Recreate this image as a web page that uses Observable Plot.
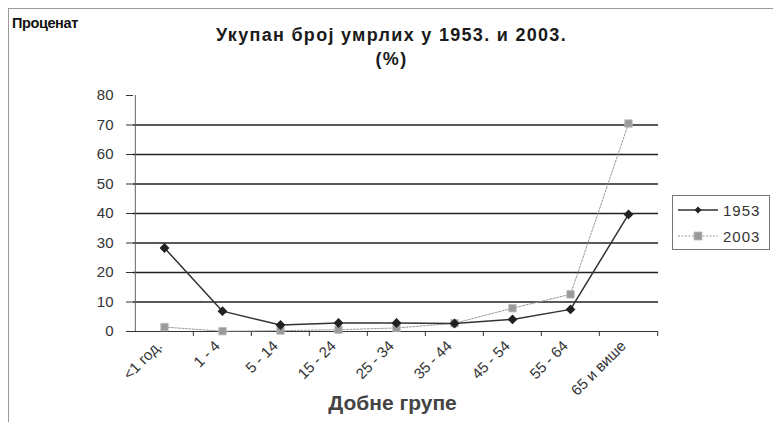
<!DOCTYPE html>
<html><head><meta charset="utf-8">
<script src="https://cdn.jsdelivr.net/npm/d3@7"></script>
<script src="https://cdn.jsdelivr.net/npm/@observablehq/plot@0.6"></script>
<style>
body{margin:0;background:#fff}
#wrap{position:relative;width:773px;height:422px;font-family:"Liberation Sans",Arial,sans-serif;overflow:hidden}
#border{position:absolute;left:8px;top:8px;width:800px;height:430px;border:1px solid #999;box-sizing:border-box}
.t{position:absolute;white-space:nowrap;color:#111}
#ylab{left:12px;top:15px;font-weight:bold;font-size:14.5px;letter-spacing:-0.4px}
#title{left:0;width:783px;text-align:center;top:23px;font-weight:bold;font-size:18px;line-height:24px;letter-spacing:1.3px;color:#1a1a1a}
#xlab{left:0;width:785px;text-align:center;top:391px;font-weight:bold;font-size:21px;color:#444}
#legend{position:absolute;left:672px;top:195px;width:98px;height:55px;border:1px solid #777;box-sizing:border-box;background:#fff;font-size:15px;color:#333}
.li{position:absolute;left:5px;height:18px;display:flex;align-items:center}
.li span{margin-left:5px;letter-spacing:1px}
svg.plot{position:absolute;left:0;top:0}
</style></head><body>
<div id="wrap">
<div id="border"></div>
<div class="t" id="ylab">Проценат</div>
<div class="t" id="title">Укупан број умрлих у 1953. и 2003.<br>(%)</div>
<div class="t" id="xlab">Добне групе</div>
</div>
<script>
const categories = ["<1 год.", "1 - 4", "5 - 14", "15 - 24", "25 - 34", "35 - 44", "45 - 54", "55 - 64", "65 и више"];
const series = ["1953", "2003"];
const values1953 = [28.3, 6.9, 2.2, 2.9, 2.9, 2.7, 4.1, 7.5, 39.7];
const values2003 = [1.5, 0.1, 0.3, 0.6, 1.2, 2.8, 7.9, 12.6, 70.5];
const yTicks = [0, 10, 20, 30, 40, 50, 60, 70, 80];
const gridTicks = [10, 20, 30, 40, 50, 60, 70];

const data = [
  ...categories.map((c, i) => ({cat: c, series: "1953", value: values1953[i]})),
  ...categories.map((c, i) => ({cat: c, series: "2003", value: values2003[i]}))
];
const d1953 = data.filter(d => d.series === "1953");
const d2003 = data.filter(d => d.series === "2003");

const W = 773, H = 422, mL = 133, mR = 115, mT = 95, mB = 91;
const step = (W - mL - mR) / categories.length;

const chart = Plot.plot({
  width: W, height: H,
  marginLeft: mL, marginRight: mR, marginTop: mT, marginBottom: mB,
  style: {background: "transparent", fontFamily: "Liberation Sans, Arial, sans-serif", fontSize: "15px", color: "#333"},
  x: {type: "point", domain: categories, padding: 0.5},
  y: {domain: [0, 80]},
  marks: [
    Plot.ruleY(gridTicks, {stroke: "#222", strokeWidth: 1.3}),
    Plot.ruleY([0], {stroke: "#333", strokeWidth: 1.2}),
    Plot.ruleX([categories[0]], {dx: -step / 2, stroke: "#666", strokeWidth: 1}),
    Plot.axisY({ticks: yTicks, tickSize: 7, tickPadding: 13, label: null, stroke: "#333", fill: "#333", fontSize: 15}),
    Plot.ruleX(categories.slice(1), {x: d => d, dx: -step / 2, insetTop: H - mT - mB, insetBottom: -5, stroke: "#333"}),
    Plot.ruleX([categories[categories.length - 1]], {dx: step / 2, insetTop: H - mT - mB, insetBottom: -5, stroke: "#333"}),
    Plot.axisX({tickSize: 0, tickRotate: -45, tickPadding: 12, dx: -5, label: null, fill: "#333", fontSize: 15}),
    Plot.line(d2003, {x: "cat", y: "value", stroke: "#999", strokeWidth: 1, strokeDasharray: "2,1.5"}),
    Plot.dot(d2003, {x: "cat", y: "value", symbol: "square", r: 4.2, fill: "#9a9a9a", stroke: "#bbb", strokeWidth: 0.8}),
    Plot.line(d1953, {x: "cat", y: "value", stroke: "#333", strokeWidth: 1.5}),
    Plot.dot(d1953, {x: "cat", y: "value", symbol: "diamond2", r: 3.5, fill: "#222", stroke: "#222"})
  ]
});
chart.classList.add("plot");
const wrap = document.getElementById("wrap");
wrap.insertBefore(chart, wrap.children[1]);

// legend
const legend = document.createElement("div");
legend.id = "legend";
const sym = {
  "1953": `<svg width="40" height="10"><line x1="0" y1="5" x2="40" y2="5" stroke="#333" stroke-width="1.5"/><path d="M20,1.5L23.5,5L20,8.5L16.5,5Z" fill="#222"/></svg>`,
  "2003": `<svg width="40" height="10"><line x1="0" y1="5" x2="40" y2="5" stroke="#999" stroke-width="1" stroke-dasharray="2,1.5"/><rect x="16" y="1" width="8" height="8" fill="#9a9a9a" stroke="#bbb" stroke-width="0.8"/></svg>`
};
series.forEach((s, i) => {
  const li = document.createElement("div");
  li.className = "li";
  li.style.top = (5 + i * 26) + "px";
  li.innerHTML = sym[s] + `<span>${s}</span>`;
  legend.appendChild(li);
});
wrap.appendChild(legend);
</script>
</body></html>
